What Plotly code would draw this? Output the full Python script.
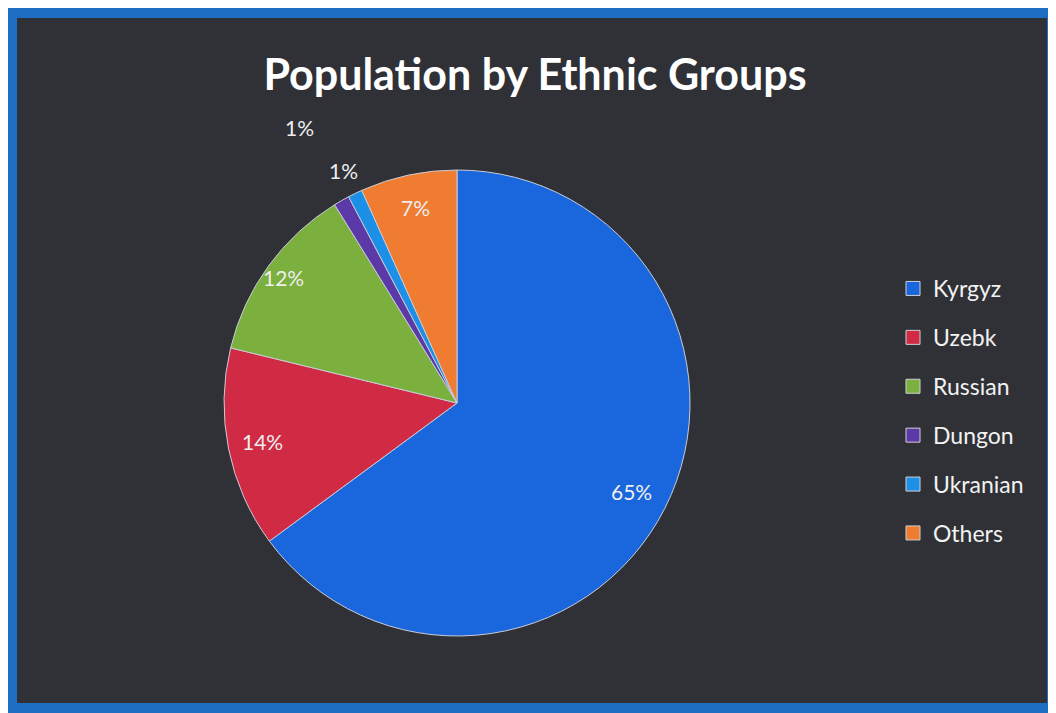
import math
import plotly.graph_objects as go

groups = ["Kyrgyz", "Uzebk", "Russian", "Dungon", "Ukranian", "Others"]
shares = [64.9, 13.9, 12.4, 1.1, 1.0, 6.7]
colors = ["#1a66dd", "#d02a44", "#7bb03e", "#5b3aa8", "#1c8fe6", "#f07c32"]
# radial distance of each percentage label, as a fraction of the pie radius
label_radius = [0.84, 0.85, 0.92, 1.36, 1.11, 0.86]

W, H = 1048, 705          # page body margin of 8 px takes the rest of the window
CX, CY, R = 449, 395, 233  # pie centre and radius in figure pixels


def px(x):
    return x / W


def py(y):
    return 1 - y / H


fig = go.Figure()
fig.add_trace(go.Pie(
    labels=groups,
    values=shares,
    sort=False,
    direction="clockwise",
    rotation=0,
    marker=dict(colors=colors, line=dict(color="#c9ccd6", width=1)),
    textinfo="none",
    showlegend=False,
    domain=dict(x=[px(CX - R), px(CX + R)], y=[py(CY + R), py(CY - R)]),
    hoverinfo="label+percent",
))

# legend entries (one square per group)
for g, c in zip(groups, colors):
    fig.add_trace(go.Scatter(
        x=[None], y=[None], mode="markers", name=g, legendgroup=g,
        marker=dict(symbol="square", size=14, color=c,
                    line=dict(color="#d0d0d0", width=1)),
    ))

# percentage labels placed at the middle angle of each slice
total = sum(shares)
annotations = []
cum = 0.0
for v, rf in zip(shares, label_radius):
    mid = (cum + v / 2) / total * 2 * math.pi
    cum += v
    x = CX + rf * R * math.sin(mid)
    y = CY - rf * R * math.cos(mid)
    annotations.append(dict(
        x=px(x), y=py(y), xref="paper", yref="paper",
        text=f"{round(v / total * 100)}%", showarrow=False,
        font=dict(family="Lato", size=21, color="#eeeeee"),
        xanchor="center", yanchor="middle",
    ))

fig.update_layout(
    width=W, height=H,
    margin=dict(l=0, r=0, t=0, b=0),
    paper_bgcolor="#1e6fc3",
    plot_bgcolor="rgba(0,0,0,0)",
    xaxis=dict(visible=False),
    yaxis=dict(visible=False),
    title=dict(
        text="<b>Population by Ethnic Groups</b>",
        x=px(527), xanchor="center",
        y=py(67), yanchor="middle",
        font=dict(family="Lato", size=43, color="#ffffff"),
    ),
    legend=dict(
        x=px(885), xanchor="left",
        y=py(259), yanchor="top",
        font=dict(family="Lato", size=23, color="#f2f2f2"),
        bgcolor="rgba(0,0,0,0)",
        tracegroupgap=16,
    ),
    annotations=annotations,
    shapes=[
        dict(type="rect", xref="paper", yref="paper", layer="below",
             x0=px(9), x1=px(1039), y0=py(695), y1=py(10),
             fillcolor="#2f3137", line=dict(width=0)),
    ],
)

fig.write_html("out.html")
